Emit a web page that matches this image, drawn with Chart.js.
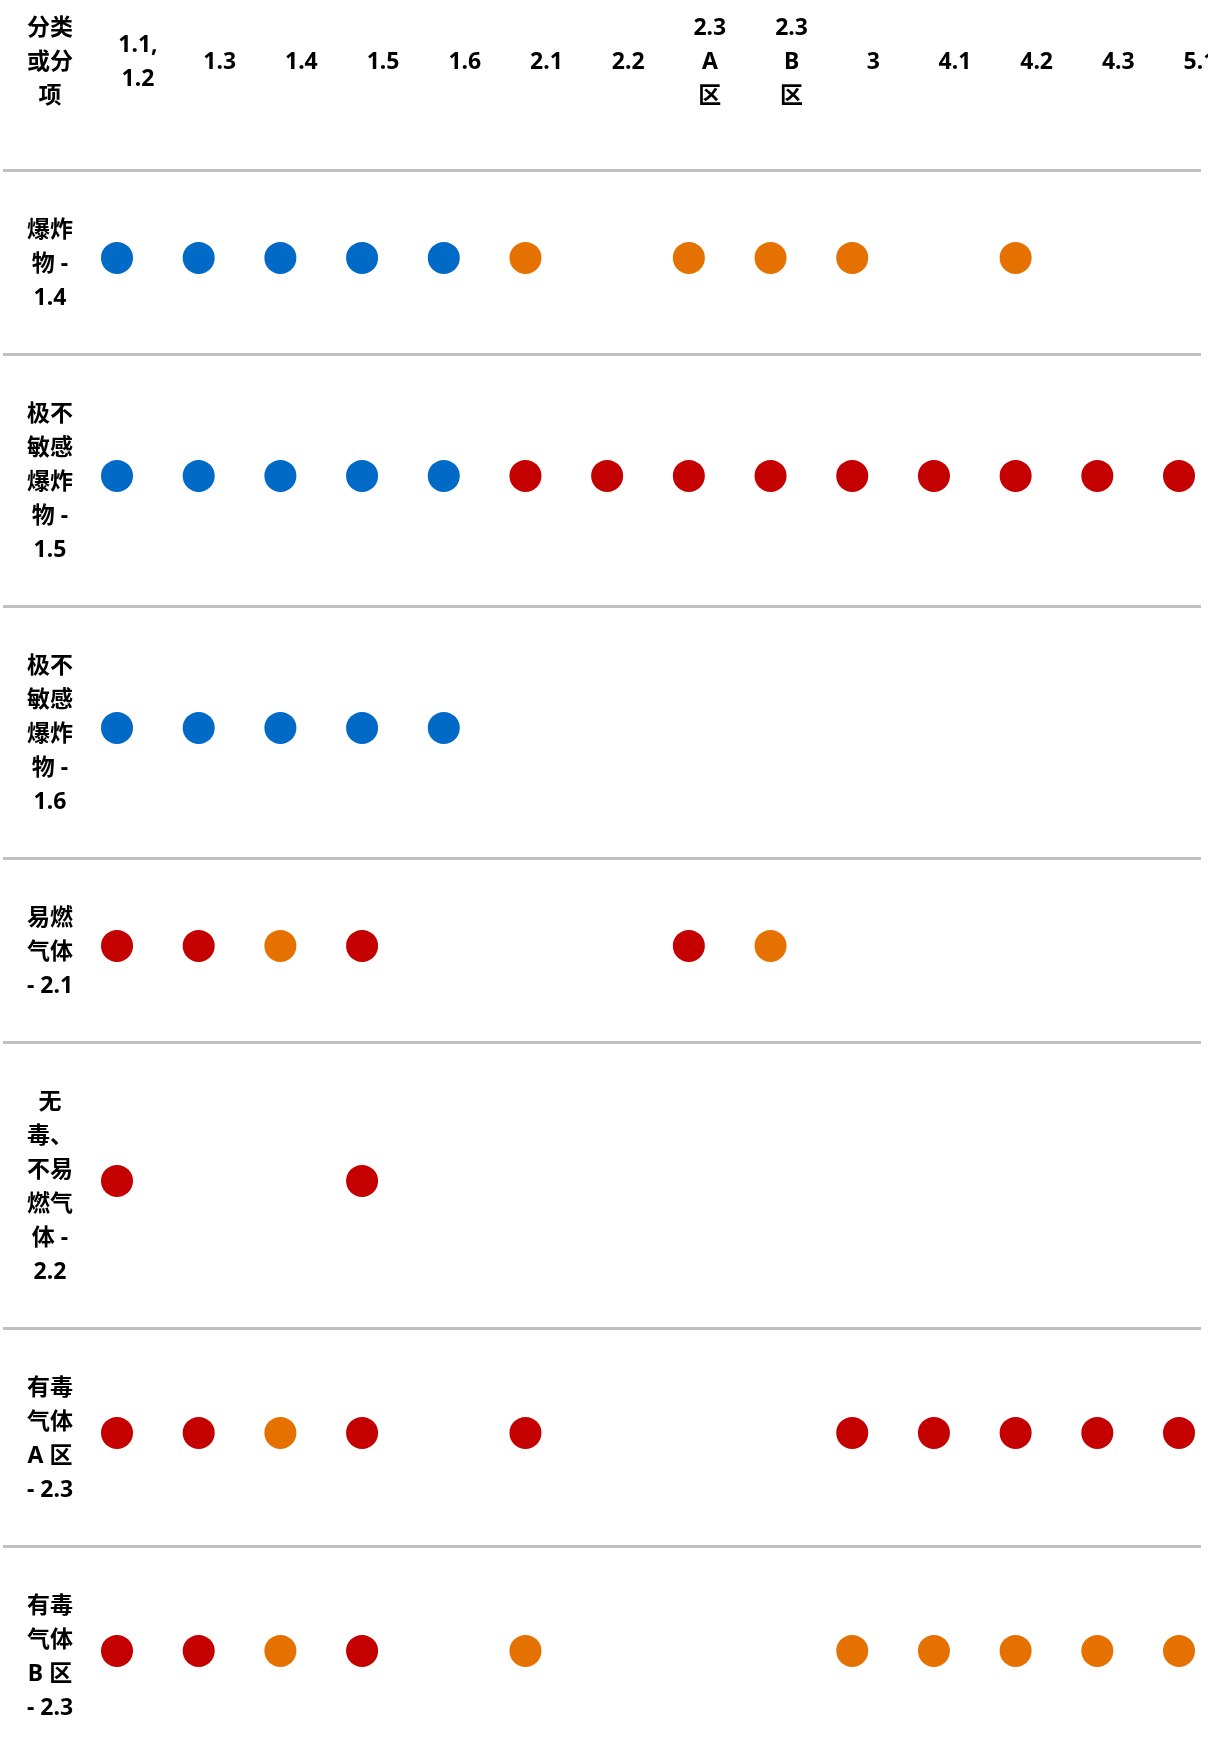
<html lang="zh">
<head>
<meta charset="utf-8" />
<title>危险货物分类隔离表</title>
<script src="https://cdn.jsdelivr.net/npm/chart.js@4.4.1/dist/chart.umd.min.js"></script>
<style>
  html, body { margin: 0; padding: 0; background: #fff; }
  #wrap { width: 1208px; height: 1764px; position: relative; }
</style>
</head>
<body>
<div id="wrap"><canvas id="chart"></canvas></div>
<script>
// column headers (one array entry per header line)
var columnLabels = [
  ["1.1,", "1.2"], ["1.3"], ["1.4"], ["1.5"], ["1.6"], ["2.1"], ["2.2"],
  ["2.3", "A", "区"], ["2.3", "B", "区"], ["3"], ["4.1"], ["4.2"], ["4.3"], ["5.1"]
];
var cornerLabel = ["分类", "或分", "项"];

// row labels, wrapped as in the table
var rowLabels = [
  ["爆炸", "物 -", "1.4"],
  ["极不", "敏感", "爆炸", "物 -", "1.5"],
  ["极不", "敏感", "爆炸", "物 -", "1.6"],
  ["易燃", "气体", "- 2.1"],
  ["无", "毒、", "不易", "燃气", "体 -", "2.2"],
  ["有毒", "气体", "A 区", "- 2.3"],
  ["有毒", "气体", "B 区", "- 2.3"]
];

// one code per column: B = blue, R = red, O = orange, - = empty
var cellCodes = [
  "BBBBBO-OOO-O--",
  "BBBBBRRRRRRRRR",
  "BBBBB---------",
  "RROR---RO-----",
  "R--R----------",
  "RROR-R---RRRRR",
  "RROR-O---OOOOO"
];

var codeColors = { B: "#006ac6", R: "#c50000", O: "#e57200" };

// layout in "text line" units (one unit = one label line)
var LINE_PX = 34;
var HEADER_LINES = 170 / LINE_PX;
var ROW_PAD = 82 / LINE_PX;
var CANVAS_LINES = 1764 / LINE_PX;

var rowMid = [], boundaries = [];
var acc = HEADER_LINES;
for (var r = 0; r < rowLabels.length; r++) {
  boundaries.push(acc);
  var h = rowLabels[r].length + ROW_PAD;
  rowMid.push(acc + h / 2);
  acc += h;
}

var datasets = [];
["B", "R", "O"].forEach(function (code) {
  var pts = [];
  for (var r = 0; r < cellCodes.length; r++) {
    for (var c = 0; c < cellCodes[r].length; c++) {
      if (cellCodes[r].charAt(c) === code) {
        pts.push({ x: c, y: rowMid[r] - 0.12 });
      }
    }
  }
  datasets.push({
    label: code,
    data: pts,
    pointRadius: 16,
    pointHoverRadius: 16,
    pointBorderWidth: 0,
    backgroundColor: codeColors[code],
    borderColor: codeColors[code],
    clip: false
  });
});

var FONT = 'bold 23px "Noto Sans", "Noto Sans CJK SC", sans-serif';

function drawLines(ctx, lines, x, cy, lh) {
  var n = lines.length;
  for (var k = 0; k < n; k++) {
    ctx.fillText(lines[k], x, cy + (k - (n - 1) / 2) * lh);
  }
}

var tableText = {
  id: "tableText",
  afterDraw: function (chart) {
    var ctx = chart.ctx;
    var xs = chart.scales.x, ys = chart.scales.y;
    var lh = ys.getPixelForValue(1) - ys.getPixelForValue(0);
    ctx.save();
    ctx.font = FONT;
    ctx.fillStyle = "#000";
    ctx.textAlign = "center";
    ctx.textBaseline = "middle";
    var headerY = 62;
    drawLines(ctx, cornerLabel, 50, headerY, lh);
    for (var i = 0; i < columnLabels.length; i++) {
      drawLines(ctx, columnLabels[i], xs.getPixelForValue(i) + 21, headerY, lh);
    }
    for (var r = 0; r < rowLabels.length; r++) {
      drawLines(ctx, rowLabels[r], 50, ys.getPixelForValue(rowMid[r]) + 2, lh);
    }
    ctx.restore();
  }
};

new Chart(document.getElementById("chart"), {
  type: "scatter",
  data: { datasets: datasets },
  options: {
    responsive: true,
    maintainAspectRatio: false,
    animation: false,
    events: [],
    layout: { padding: { left: 3, right: 7, top: 0, bottom: 0 }, autoPadding: false },
    plugins: { legend: { display: false }, tooltip: { enabled: false } },
    scales: {
      x: {
        type: "linear",
        display: false,
        min: -114 / 81.692,
        max: 13 + 22 / 81.692
      },
      y: {
        type: "linear",
        reverse: true,
        min: 0,
        max: CANVAS_LINES,
        afterBuildTicks: function (scale) {
          scale.ticks = boundaries.map(function (v) { return { value: v }; });
        },
        ticks: { display: false },
        border: { display: false },
        grid: { color: "#bfbfbf", lineWidth: 3, drawTicks: false }
      }
    }
  },
  plugins: [tableText]
});
</script>
</body>
</html>
